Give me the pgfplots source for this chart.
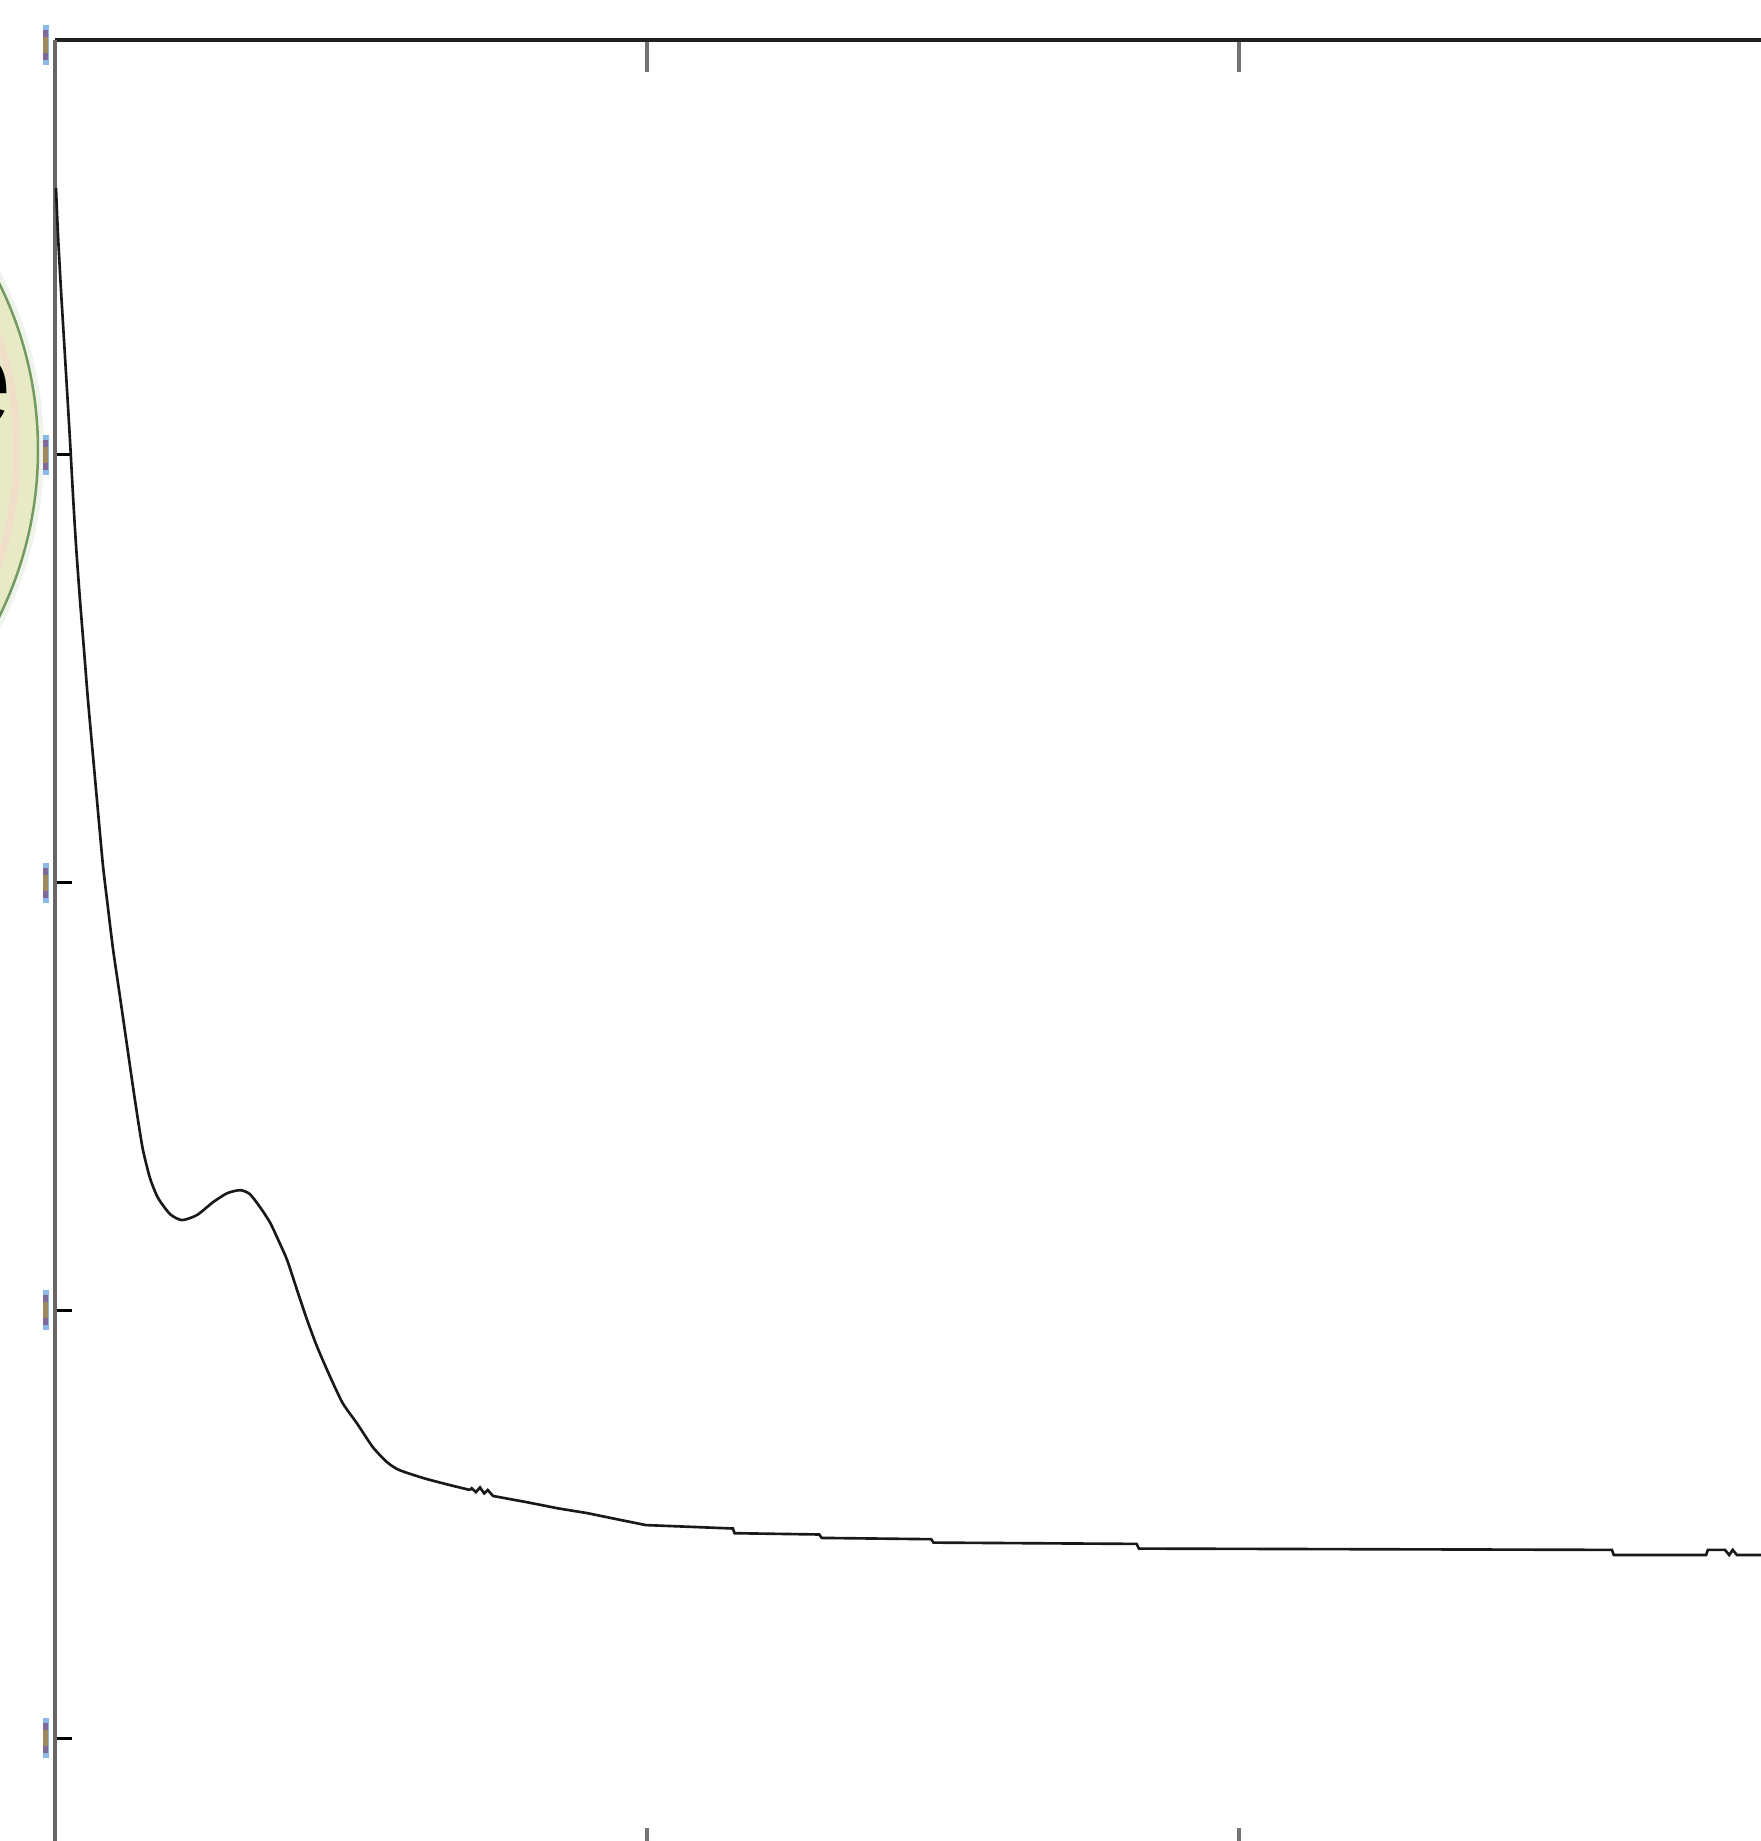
\documentclass[border=0pt]{standalone}
\usepackage{pgfplots}
\pgfplotsset{compat=1.18}
\usepackage{fontspec}
\setmainfont{Liberation Sans}
\definecolor{circfill}{RGB}{232,234,198}
\definecolor{circedge}{RGB}{115,155,95}
\definecolor{peach}{RGB}{240,222,200}
\definecolor{mkblue}{RGB}{140,184,232}
\definecolor{mkpurple}{RGB}{125,107,155}
\definecolor{mkbrown}{RGB}{158,138,94}
\begin{document}
\begin{tikzpicture}
\useasboundingbox (0,0) rectangle (17.61,18.41);
\clip (0,0) rectangle (17.61,18.41);
\fill[white] (0,0) rectangle (17.61,18.41);
\draw[circedge!12, line width=0.08cm] (-3.39,13.91) circle (3.79);
\filldraw[fill=circfill, draw=circedge, line width=0.025cm] (-3.39,13.91) circle (3.77);
\draw[peach, line width=0.07cm] (-3.39,13.91) circle (3.56);
\node[anchor=east, inner sep=0pt, font=\fontsize{38}{40}\selectfont] at (0.13,14.50) {e};
\begin{axis}[
  at={(0.55cm,-0.19cm)}, anchor=south west,
  scale only axis, width=17.76cm, height=18.20cm,
  xmin=200, xmax=500, ymin=-0.285, ymax=3.970,
  separate axis lines,
  every outer x axis line/.append style={draw=black!87, line width=1.4pt},
  every outer y axis line/.append style={draw=black!60, line width=1.1pt},
  xtick={300,400}, xticklabels={},
  ytick={0,1,2,3}, yticklabels={}, ytick pos=left,
  tick align=inside,
  xtick style={draw=black!55, line width=0.9pt, /pgfplots/major tick length=0.32cm},
  ytick style={draw=black, line width=0.8pt, /pgfplots/major tick length=0.17cm},
  clip=false,
]
% smooth absorption region
\addplot[black!90, line width=0.75pt, smooth, tension=0.4] coordinates {
(200.17,3.624) (200.51,3.514) (201.01,3.386) (201.52,3.269) (202.03,3.152)
(202.53,3.035) (203.04,2.906) (203.55,2.789) (204.22,2.661) (204.90,2.544)
(205.57,2.427) (206.42,2.296) (207.26,2.167) (208.11,2.039) (208.95,1.941)
(209.80,1.845) (210.98,1.733) (212.16,1.620) (213.18,1.522) (214.02,1.445)
(214.86,1.375) (216.05,1.309) (217.40,1.263) (219.43,1.225) (221.45,1.211)
(224.0,1.223) (226.7,1.253) (229.1,1.274) (231.3,1.281) (232.9,1.272)
(234.6,1.242) (236.3,1.206) (237.5,1.171) (239.2,1.118) (240.9,1.047)
(242.6,0.977) (244.3,0.914) (246.5,0.844) (248.6,0.783) (251.0,0.736)
(253.7,0.680) (256.1,0.645) (258.1,0.627) (262.2,0.608) (266.0,0.594)
(270.1,0.580)
};
% flat tail with small instrument steps
\addplot[black!90, line width=0.75pt] coordinates {
(270.1,0.580) (270.4,0.584) (271.1,0.575) (271.8,0.586) (272.5,0.572)
(273.1,0.580) (274.0,0.566) (279.9,0.551) (285.0,0.537) (289.9,0.526)
(294.8,0.512) (299.8,0.498)
(314.5,0.490) (314.8,0.479) (329.1,0.476) (329.5,0.468) (348.0,0.465)
(348.4,0.457) (382.7,0.454) (383.1,0.443) (463.0,0.440) (463.3,0.428)
(478.9,0.428) (479.2,0.440) (482.1,0.440) (482.8,0.428) (483.4,0.440)
(484.1,0.428) (494.8,0.428)
};
\pgfplotsinvokeforeach{0,1,2,3,3.958}{
  \fill[mkblue] ([xshift=-0.12cm,yshift=-0.2cm]axis cs:200,#1) rectangle ([xshift=-0.06cm,yshift=0.2cm]axis cs:200,#1);
  \fill[mkpurple] ([xshift=-0.12cm,yshift=-0.15cm]axis cs:200,#1) rectangle ([xshift=-0.07cm,yshift=0.15cm]axis cs:200,#1);
  \fill[mkbrown] ([xshift=-0.12cm,yshift=-0.08cm]axis cs:200,#1) rectangle ([xshift=-0.07cm,yshift=0.08cm]axis cs:200,#1);
}
\end{axis}
\end{tikzpicture}
\end{document}
